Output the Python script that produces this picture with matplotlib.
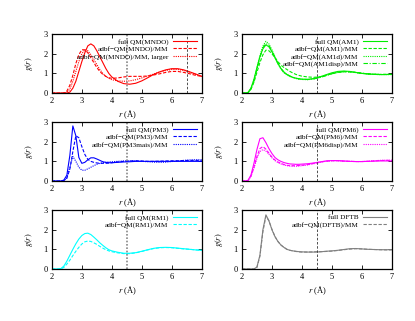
import matplotlib
matplotlib.use("Agg")
import matplotlib.pyplot as plt

plt.rcParams["font.family"] = ["Liberation Serif", "DejaVu Serif"]
plt.rcParams["mathtext.fontset"] = "stix"
plt.rcParams["font.size"] = 6

# radial grid (Angstrom)
r = [2.0, 2.1, 2.2, 2.3, 2.4, 2.5, 2.6, 2.7, 2.8, 2.9, 3.0, 3.1, 3.2, 3.3, 3.4, 3.5,
     3.6, 3.7, 3.8, 3.9, 4.0, 4.2, 4.4, 4.6, 4.8, 5.0, 5.2, 5.4, 5.6, 5.8, 6.0, 6.2,
     6.4, 6.6, 6.8, 7.0]

# MNDO
mndo_full = [0, 0, 0, 0, 0, 0, 0.05, 0.25, 0.6, 1.1, 1.6, 2.05, 2.4, 2.5, 2.4, 2.15,
             1.85, 1.55, 1.25, 1.0, 0.82, 0.6, 0.48, 0.45, 0.5, 0.62, 0.78, 0.95, 1.08, 1.18, 1.24, 1.24,
             1.18, 1.08, 0.97, 0.85]
mndo_adbf = [0, 0, 0, 0, 0, 0.1, 0.4, 0.9, 1.5, 1.95, 2.2, 2.2, 2.05, 1.8, 1.55, 1.3,
             1.1, 0.95, 0.85, 0.78, 0.75, 0.77, 0.82, 0.85, 0.85, 0.85, 0.87, 0.92, 0.98, 1.05, 1.1, 1.1,
             1.05, 0.98, 0.9, 0.85]
mndo_large = [0, 0, 0, 0, 0, 0.03, 0.2, 0.6, 1.1, 1.6, 2.0, 2.2, 2.15, 1.95, 1.7, 1.45,
              1.2, 1.0, 0.85, 0.75, 0.68, 0.62, 0.6, 0.62, 0.68, 0.77, 0.87, 0.97, 1.07, 1.15, 1.2, 1.2,
              1.15, 1.05, 0.95, 0.87]

# AM1
am1_full = [0, 0, 0.03, 0.25, 0.7, 1.3, 1.85, 2.25, 2.45, 2.35, 2.1, 1.8, 1.5, 1.25, 1.07, 0.95,
            0.87, 0.8, 0.76, 0.73, 0.71, 0.7, 0.74, 0.82, 0.93, 1.03, 1.1, 1.12, 1.1, 1.05, 1.0, 0.97,
            0.95, 0.94, 0.94, 0.95]
am1_adbf = [0, 0, 0.02, 0.2, 0.55, 1.05, 1.55, 1.95, 2.18, 2.15, 2.0, 1.8, 1.6, 1.42, 1.3, 1.2,
            1.1, 1.02, 0.95, 0.9, 0.86, 0.82, 0.8, 0.83, 0.9, 0.98, 1.05, 1.08, 1.08, 1.05, 1.01, 0.98,
            0.96, 0.95, 0.95, 0.95]
am1_d = [0, 0, 0.02, 0.22, 0.65, 1.25, 1.9, 2.4, 2.63, 2.5, 2.2, 1.85, 1.5, 1.22, 1.03, 0.92,
         0.84, 0.78, 0.74, 0.71, 0.69, 0.68, 0.72, 0.8, 0.9, 1.0, 1.07, 1.1, 1.08, 1.04, 1.0, 0.97,
         0.95, 0.94, 0.94, 0.94]
am1_disp = [0, 0, 0.02, 0.2, 0.6, 1.2, 1.8, 2.3, 2.52, 2.42, 2.15, 1.83, 1.52, 1.26, 1.07, 0.95,
            0.86, 0.8, 0.75, 0.72, 0.7, 0.69, 0.72, 0.79, 0.88, 0.98, 1.05, 1.09, 1.08, 1.05, 1.01, 0.98,
            0.96, 0.95, 0.95, 0.95]

# PM3
pm3_full = [0, 0, 0, 0, 0.05, 0.3, 1.3, 2.8, 2.3, 1.2, 0.9, 0.95, 1.08, 1.18, 1.18, 1.12,
            1.05, 0.98, 0.95, 0.93, 0.93, 0.95, 0.97, 0.98, 1.0, 1.0, 1.0, 1.0, 1.0, 1.0, 1.0, 1.0,
            1.0, 1.0, 1.0, 1.0]
pm3_adbf = [0, 0, 0, 0, 0.02, 0.15, 0.6, 1.5, 2.3, 2.2, 1.75, 1.35, 1.1, 1.0, 0.95, 0.92,
            0.9, 0.9, 0.9, 0.91, 0.93, 0.97, 1.0, 1.02, 1.03, 1.02, 1.0, 1.0, 1.01, 1.02, 1.03, 1.03,
            1.04, 1.05, 1.05, 1.05]
pm3_mais = [0, 0, 0, 0, 0.02, 0.15, 0.7, 1.25, 1.0, 0.7, 0.55, 0.55, 0.62, 0.7, 0.78, 0.85,
            0.9, 0.93, 0.95, 0.97, 0.98, 1.0, 1.02, 1.03, 1.02, 1.0, 0.98, 0.96, 0.95, 0.96, 0.99, 1.02,
            1.05, 1.07, 1.08, 1.08]

# PM6
pm6_full = [0, 0, 0.03, 0.3, 0.9, 1.6, 2.15, 2.2, 1.95, 1.65, 1.4, 1.2, 1.08, 1.0, 0.94, 0.9,
            0.87, 0.86, 0.85, 0.85, 0.86, 0.88, 0.92, 0.97, 1.02, 1.04, 1.04, 1.02, 1.0, 0.99, 0.99, 1.0,
            1.01, 1.02, 1.02, 1.02]
pm6_adbf = [0, 0, 0.02, 0.25, 0.7, 1.25, 1.65, 1.75, 1.62, 1.42, 1.22, 1.07, 0.97, 0.9, 0.84, 0.8,
            0.78, 0.78, 0.78, 0.79, 0.8, 0.84, 0.9, 0.96, 1.01, 1.03, 1.03, 1.01, 1.0, 0.99, 0.99, 1.0,
            1.02, 1.04, 1.05, 1.05]
pm6_disp = [0, 0, 0.02, 0.22, 0.65, 1.15, 1.5, 1.6, 1.52, 1.36, 1.18, 1.04, 0.94, 0.87, 0.82, 0.78,
            0.76, 0.75, 0.75, 0.76, 0.78, 0.82, 0.88, 0.95, 1.0, 1.03, 1.03, 1.01, 1.0, 0.99, 0.99, 1.01,
            1.03, 1.05, 1.06, 1.06]

# RM1
rm1_full = [0, 0, 0, 0.02, 0.15, 0.4, 0.7, 1.0, 1.28, 1.52, 1.7, 1.8, 1.82, 1.75, 1.62, 1.48,
            1.33, 1.2, 1.08, 0.98, 0.92, 0.85, 0.8, 0.8, 0.83, 0.9, 0.98, 1.05, 1.09, 1.1, 1.09, 1.06,
            1.03, 1.0, 0.97, 0.95]
rm1_adbf = [0, 0, 0, 0.01, 0.08, 0.25, 0.45, 0.68, 0.9, 1.1, 1.27, 1.38, 1.42, 1.4, 1.33, 1.25,
            1.15, 1.06, 0.98, 0.92, 0.88, 0.82, 0.78, 0.78, 0.82, 0.89, 0.97, 1.04, 1.08, 1.09, 1.08, 1.05,
            1.02, 1.0, 0.97, 0.95]

# DFTB
dftb_full = [0, 0, 0, 0, 0, 0.1, 0.7, 2.0, 2.75, 2.45, 2.0, 1.65, 1.4, 1.22, 1.1, 1.0,
             0.95, 0.92, 0.9, 0.88, 0.87, 0.86, 0.86, 0.87, 0.9, 0.92, 0.95, 0.99, 1.03, 1.04, 1.02, 1.0,
             0.99, 0.98, 0.98, 0.98]
dftb_adbf = [0, 0, 0, 0, 0, 0.08, 0.65, 1.9, 2.68, 2.45, 2.02, 1.66, 1.4, 1.22, 1.1, 1.0,
             0.95, 0.92, 0.89, 0.87, 0.86, 0.86, 0.87, 0.88, 0.89, 0.91, 0.94, 0.98, 1.01, 1.03, 1.02, 1.0,
             0.99, 0.98, 0.97, 0.97]

panels = [
    ("red", [mndo_full, mndo_adbf, mndo_large],
     ["full QM(MNDO)", "adbf\u2212QM(MNDO)/MM", "adbf\u2212QM(MNDO)/MM, larger"]),
    ("#00ee00", [am1_full, am1_adbf, am1_d, am1_disp],
     ["full QM(AM1)", "adbf\u2212QM(AM1)/MM", "adbf\u2212QM(AM1d)/MM", "adbf\u2212QM(AM1disp)/MM"]),
    ("blue", [pm3_full, pm3_adbf, pm3_mais],
     ["full QM(PM3)", "adbf\u2212QM(PM3)/MM", "adbf\u2212QM(PM3mais)/MM"]),
    ("magenta", [pm6_full, pm6_adbf, pm6_disp],
     ["full QM(PM6)", "adbf\u2212QM(PM6)/MM", "adbf\u2212QM(PM6disp)/MM"]),
    ("cyan", [rm1_full, rm1_adbf],
     ["full QM(RM1)", "adbf\u2212QM(RM1)/MM"]),
    ("gray", [dftb_full, dftb_adbf],
     ["full DFTB", "adbf\u2212QM(DFTB)/MM"]),
]

styles = ["-", (0, (3, 1.5)), (0, (1, 1)), (0, (4, 1.5, 1, 1.5))]

fig = plt.figure(figsize=(4.15, 3.21), dpi=100)
lefts = [0.125, 0.583]
bottoms = [0.710, 0.436, 0.162]
w, h = 0.361, 0.184

for i, (color, series, labels) in enumerate(panels):
    col = i % 2
    row = i // 2
    ax = fig.add_axes([lefts[col], bottoms[row], w, h])
    for j, (y, lab) in enumerate(zip(series, labels)):
        ax.plot(r, y, color=color, linestyle=styles[j], linewidth=0.8, label=lab)
    if col == 0:
        ax.axvline(4.5, color="#888888", linestyle=(0, (1, 1)), linewidth=1.2)
    else:
        ax.axvline(4.5, color="#333333", linestyle=(0, (3, 2)), linewidth=0.6)
    if i == 0:
        ax.axvline(6.5, color="#333333", linestyle=(0, (3, 2)), linewidth=0.6)
    ax.set_xlim(2, 7)
    ax.set_ylim(0, 3)
    ax.set_xticks([2, 3, 4, 5, 6, 7])
    ax.set_yticks([0, 1, 2, 3])
    ax.tick_params(direction="in", top=True, right=True, length=3, width=0.6, labelsize=6, pad=3)
    for s in ax.spines.values():
        s.set_linewidth(0.9)
    ax.set_xlabel("$r$ (Å)", fontsize=6, labelpad=2)
    ax.set_ylabel("$g(r)$", fontsize=6, labelpad=6)
    ax.legend(loc="upper right", frameon=False, fontsize=5.2, markerfirst=False,
              handlelength=3.4, handletextpad=0.6, labelspacing=0.15, borderaxespad=0.2)

fig.savefig("out.png", dpi=100)
